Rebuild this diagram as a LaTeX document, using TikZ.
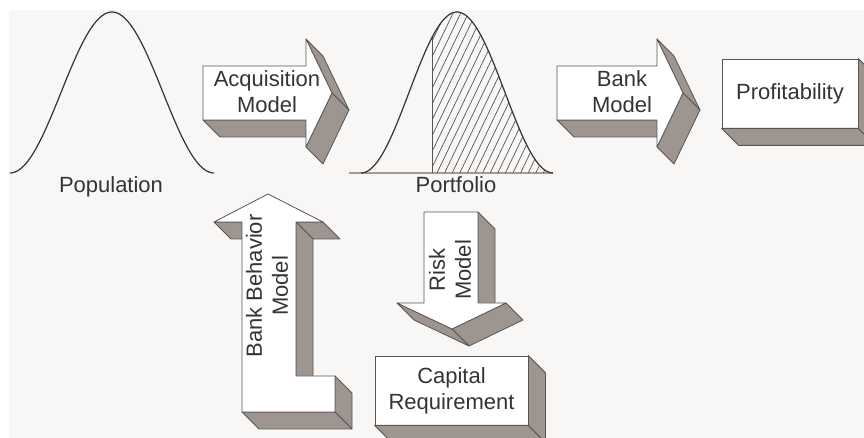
\documentclass[tikz,border=0pt]{standalone}
\usepackage{fontspec}
\setmainfont{Liberation Sans}
\usepackage{tikz}
\usetikzlibrary{calc}
\definecolor{bmback}{RGB}{248,247,245}
\definecolor{bmedge}{RGB}{88,86,85}
\definecolor{bmside}{RGB}{158,149,144}
\definecolor{bmink}{RGB}{52,52,52}
\definecolor{bmbase}{RGB}{165,155,148}
\tikzset{
  front/.style={fill=white, draw=bmedge, line width=0.4pt},
  side/.style={fill=bmside, draw=bmedge, line width=0.4pt},
  box/.style={front, inner sep=0pt, align=center, text=bmink,
    font=\fontsize{11}{13}\selectfont},
  bell/.style={draw=bmink, line width=0.6pt},
  hatch/.style={draw=bmedge, line width=0.35pt},
  lbl/.style={font=\fontsize{11}{13}\selectfont, text=bmink, align=center, inner sep=0pt},
  every picture/.append style={line join=round}
}

\begin{document}
\begin{tikzpicture}[x=0.5pt,y=-0.5pt]
  \clip (0,0) rectangle (864,438);
  \fill[bmback] (9,10) rectangle (864,438);

  % population
  \draw[bell] plot[domain=-1:1, samples=90, smooth] ({112+102*\x},{173-80.5*(1+cos(180*\x))});
  \node[lbl, anchor=base] (pop) at (111,193) {Population};

  % portfolio with the hatched tail
  \draw[bmbase, line width=0.6pt] (349,173) -- (553,173);
  \begin{scope}
    \clip (432,173) -- plot[domain=-0.26:1, samples=60] ({457+96*\x},{173-80.5*(1+cos(180*\x))}) -- cycle;
    \foreach \i in {0,...,28}
      \draw[hatch] (350+7.6*\i,180) -- ++(90,-187);
  \end{scope}
  \draw[hatch] (432,173) -- (432,{173-80.5*(1+cos(46.8))});
  \draw[bell] plot[domain=-1:1, samples=90, smooth] ({457+96*\x},{173-80.5*(1+cos(180*\x))});
  \node[lbl, anchor=base] (port) at (456,193) {Portfolio};

  % acquisition arrow
  \filldraw[side] (203,120) -- (306,120) -- (323,137) -- (220,137) -- cycle;
  \filldraw[side] (306,39) -- (332,93) -- (349,110) -- (323,56) -- cycle;
  \filldraw[side] (332,93) -- (306,147) -- (323,164) -- (349,110) -- cycle;
  \filldraw[front] (203,66) -- (306,66) -- (306,39) -- (332,93) -- (306,147) -- (306,120) -- (203,120) -- cycle;
  \node[lbl] (acq) at (267,92) {Acquisition\\Model};

  % bank arrow
  \filldraw[side] (557,120) -- (657,120) -- (674,137) -- (574,137) -- cycle;
  \filldraw[side] (657,39) -- (683,93) -- (700,110) -- (674,56) -- cycle;
  \filldraw[side] (683,93) -- (657,147) -- (674,164) -- (700,110) -- cycle;
  \filldraw[front] (557,66) -- (657,66) -- (657,39) -- (683,93) -- (657,147) -- (657,120) -- (557,120) -- cycle;
  \node[lbl] (bank) at (622,92) {Bank\\Model};

  % profitability
  \node[box, minimum width=68pt, minimum height=34.5pt] (profit) at (790,93.5) {Profitability};
  \filldraw[side] (profit.south west) -- (profit.south east) -- ++(17,17) -- ($(profit.south west)+(17,17)$) -- cycle;
  \filldraw[side] (profit.north east) -- ++(17,17) -- ($(profit.south east)+(17,17)$) -- (profit.south east) -- cycle;

  % bank behavior arrow, pointing up
  \filldraw[side] (242,222) -- (214,222) -- (231,239) -- (259,239) -- cycle;
  \filldraw[side] (323,222) -- (296,222) -- (313,239) -- (340,239) -- cycle;
  \filldraw[side] (296,222) -- (296,376) -- (313,393) -- (313,239) -- cycle;
  \filldraw[side] (335,376) -- (335,412) -- (352,429) -- (352,393) -- cycle;
  \filldraw[side] (335,412) -- (242,412) -- (259,429) -- (352,429) -- cycle;
  \filldraw[front] (268,194) -- (323,222) -- (296,222) -- (296,376) -- (335,376) -- (335,412) -- (242,412) -- (242,222) -- (214,222) -- cycle;
  \node[lbl, rotate=90] (behav) at (267,286) {Bank Behavior\\Model};

  % risk arrow, pointing down
  \filldraw[side] (478,212) -- (478,303) -- (495,320) -- (495,229) -- cycle;
  \filldraw[side] (506,303) -- (452,329) -- (469,346) -- (523,320) -- cycle;
  \filldraw[side] (452,329) -- (397,303) -- (414,320) -- (469,346) -- cycle;
  \filldraw[front] (424,212) -- (478,212) -- (478,303) -- (506,303) -- (452,329) -- (397,303) -- (424,303) -- cycle;
  \node[lbl, rotate=90] (risk) at (450,270) {Risk\\Model};

  % capital requirement
  \node[box, minimum width=76.5pt, minimum height=34.5pt] (capital) at (451.5,390.5) {Capital\\Requirement};
  \filldraw[side] (capital.south west) -- (capital.south east) -- ++(17,17) -- ($(capital.south west)+(17,17)$) -- cycle;
  \filldraw[side] (capital.north east) -- ++(17,17) -- ($(capital.south east)+(17,17)$) -- (capital.south east) -- cycle;
\end{tikzpicture}
\end{document}
